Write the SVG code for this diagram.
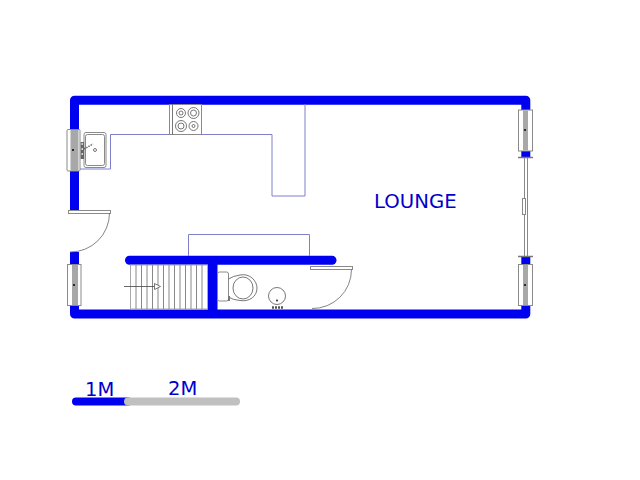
<svg xmlns="http://www.w3.org/2000/svg" width="640" height="480" viewBox="0 0 640 480">
<style>
.w{fill:none;stroke:#0000f0;stroke-width:9;stroke-linejoin:round}
.c{fill:none;stroke:#8080c8;stroke-width:1}
.f{fill:#fff;stroke:#8a8a8a;stroke-width:1}
.g{fill:#a8a8a8;stroke:none}
.k{fill:none;stroke:#555;stroke-width:.8}
.t{font-family:"DejaVu Sans",sans-serif;fill:#0000cc}
</style>
<rect width="640" height="480" fill="#fff"/>
<g id="walls">
<path class="w" d="M74.500 129V100.300H525.800V112"/>
<path class="w" d="M74.500 171V211"/>
<path class="w" d="M74.500 252V314H525.800V302"/>
<path class="w" d="M525.800 150V157M525.800 257V265"/>
<path class="w" style="stroke-linecap:round" d="M129.500 260.300H332"/>
<path class="w" style="stroke-width:10" d="M212.500 260V314"/>
</g>
<g id="counter">
<path class="c" d="M80 169H110.500V134.500H272V196H305V104"/>
<path class="c" d="M188.500 256V234.500H309.500V256"/>
</g>
<g id="stove">
<rect class="f" x="169.500" y="104.500" width="32" height="30"/>
<path class="k" d="M172.500 104.500V134.500"/>
<circle class="k" cx="181" cy="113" r="4.500"/><circle class="k" cx="181" cy="113" r="2"/>
<circle class="k" cx="193.500" cy="113" r="5.500"/><circle class="k" cx="193.500" cy="113" r="3"/>
<circle class="k" cx="181" cy="126" r="5.500"/><circle class="k" cx="181" cy="126" r="3"/>
<circle class="k" cx="193.500" cy="126" r="4.500"/><circle class="k" cx="193.500" cy="126" r="1.500"/>
</g>
<g id="sink">
<rect class="f" x="84" y="132.500" width="22" height="35" rx="2"/>
<rect class="f" x="85.500" y="134.500" width="19" height="31" rx="2"/>
<circle class="k" cx="95" cy="150" r="1.500"/>
<path d="M84 149L93 144" stroke="#666" stroke-width="1.500" stroke-dasharray="1.500 1" fill="none"/>
<rect x="80.500" y="142" width="3.500" height="17" fill="#666"/>
<path d="M81.500 144h1.500M81.500 149h1.500M81.500 154h1.500" stroke="#fff" stroke-width="1.500"/>
</g>
<g id="window-left-top">
<rect class="f" x="67" y="129.500" width="13" height="41.500" rx="1"/>
<rect class="g" x="70.500" y="130" width="8" height="41"/>
<circle cx="73" cy="150" r="1" fill="#000"/>
</g>
<g id="window-left-bottom">
<rect class="f" x="67.500" y="264.500" width="13.500" height="41"/>
<rect class="g" x="72" y="265" width="6" height="40"/>
<circle cx="74" cy="285" r="1" fill="#000"/>
</g>
<g id="window-right-top">
<rect class="f" x="518.500" y="110" width="14" height="41"/>
<rect class="g" x="523" y="110.500" width="5" height="40"/>
<circle cx="525" cy="130" r="1" fill="#000"/>
</g>
<g id="window-right-bottom">
<rect class="f" x="518.500" y="264.500" width="14" height="41"/>
<rect class="g" x="523" y="265" width="5" height="40"/>
<circle cx="525" cy="285" r="1" fill="#000"/>
</g>
<g id="sliding-door">
<path d="M518 157.500H533M518 256.500H533" stroke="#777" stroke-width="1.500"/>
<path d="M524.500 158V256M527.500 158V256" stroke="#888" stroke-width="1" fill="none"/>
<rect x="522.500" y="198.500" width="3" height="16" fill="#fff" stroke="#888"/>
</g>
<g id="door-entry">
<rect class="f" x="68.500" y="210.500" width="42" height="3"/>
<path d="M109.500 213A39 39 0 0 1 70 252" fill="none" stroke="#666" stroke-width=".8"/>
</g>
<g id="door-wc">
<rect class="f" x="310.500" y="266.500" width="42" height="3"/>
<path d="M351.500 269.500A39 39 0 0 1 312 308.500" fill="none" stroke="#666" stroke-width=".8"/>
</g>
<g id="stairs">
<rect x="130.500" y="265" width="77" height="44" fill="#fff" stroke="#aaa"/>
<path d="M136 265V309M141.500 265V309M147 265V309M152.500 265V309M158 265V309M163.500 265V309M169 265V309M174.500 265V309M180 265V309M185.500 265V309M191 265V309M196.500 265V309M202 265V309" stroke="#888" stroke-width="1"/>
<path d="M124 286.500H154" stroke="#444" stroke-width=".8"/>
<path d="M154.500 283.500L160.500 286.500L154.500 289.500Z" fill="#fff" stroke="#555" stroke-width=".8"/>
</g>
<g id="toilet">
<rect class="f" x="217.500" y="272" width="11" height="29" rx="2"/>
<path class="k" d="M228.500 279Q233 276 240 275C250 273 257 281 257 288C257 296 250 302 240 300.500Q233 300 228.500 297"/>
<ellipse class="k" cx="243" cy="288" rx="10" ry="11"/>
<rect x="228" y="296" width="2" height="5" fill="#777"/>
</g>
<g id="basin">
<circle class="k" cx="277" cy="296" r="8.500"/>
<circle cx="277" cy="300.500" r="1" fill="#222"/>
<path d="M272 307.500H283" stroke="#555" stroke-width="2.500" stroke-dasharray="2 1"/>
</g>
<g id="scale">
<path d="M76 401.500H128" stroke="#0000f0" stroke-width="8" stroke-linecap="round"/>
<path d="M128 401.500H236" stroke="#c0c0c0" stroke-width="8" stroke-linecap="round"/>
</g>
<text class="t" x="374" y="208" font-size="19.700">LOUNGE</text>
<text class="t" x="85" y="396" font-size="19.500">1M</text>
<text class="t" x="168" y="395" font-size="19.500">2M</text>
</svg>
